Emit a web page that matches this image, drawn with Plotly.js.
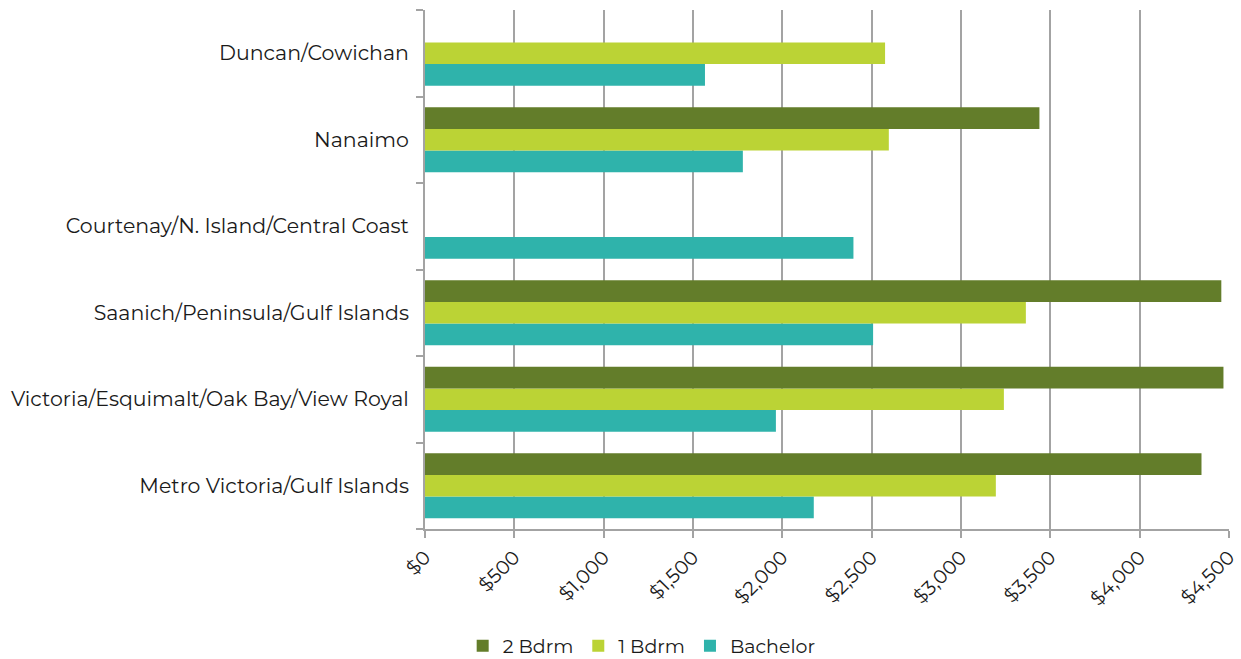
<!DOCTYPE html>
<html>
<head>
<meta charset="utf-8">
<script src="https://cdn.plot.ly/plotly-3.0.1.min.js"></script>
<style>
  html, body { margin: 0; padding: 0; background: #ffffff; }
  #chart { width: 1241px; height: 659px; }
</style>
</head>
<body>
<div id="chart"></div>
<script>
// Regions, listed bottom to top along the category axis
const regions = [
  'Metro Victoria/Gulf Islands',
  'Victoria/Esquimalt/Oak Bay/View Royal',
  'Saanich/Peninsula/Gulf Islands',
  'Courtenay/N. Island/Central Coast',
  'Nanaimo',
  'Duncan/Cowichan'
];

// Monthly rent by unit type (null = no figure reported)
const bachelor = [2176, 1964, 2508, 2398, 1779, 1567];
const oneBdrm  = [3195, 3240, 3363, null, 2596, 2575];
const twoBdrm  = [4346, 4469, 4457, null, 3439, null];

const xTicks = [0, 500, 1000, 1500, 2000, 2500, 3000, 3500, 4000, 4500];
const xTickLabels = xTicks.map(v => '$' + v.toLocaleString('en-US'));

const font = 'Montserrat, "Noto Sans", "Open Sans", sans-serif';
const gridCol = '#a3a3a3';

function series(name, values, color) {
  return {
    type: 'bar',
    orientation: 'h',
    name: name,
    y: regions,
    x: values,
    marker: { color: color, line: { width: 0 } },
    hoverinfo: 'x+y+name'
  };
}

const data = [
  series('Bachelor', bachelor, '#2fb3ab'),
  series('1 Bdrm', oneBdrm, '#bbd335'),
  series('2 Bdrm', twoBdrm, '#637d2a')
];

const layout = {
  width: 1241,
  height: 659,
  margin: { l: 425, r: 12, t: 10, b: 130, autoexpand: false },
  paper_bgcolor: '#ffffff',
  plot_bgcolor: '#ffffff',
  barmode: 'group',
  bargap: 0.25,
  bargroupgap: 0,
  font: { family: font, size: 18, color: '#1a1a1a' },
  showlegend: true,
  legend: {
    orientation: 'h',
    traceorder: 'reversed',
    x: 0.2695,
    xanchor: 'center',
    y: -0.225,
    yanchor: 'middle',
    font: { family: font, size: 19, color: '#1a1a1a' },
    itemwidth: 30
  },
  xaxis: {
    range: [0, 4500],
    tickmode: 'array',
    tickvals: xTicks,
    ticktext: xTickLabels,
    tickangle: -45,
    ticks: 'outside',
    ticklen: 7,
    tickwidth: 2,
    tickcolor: gridCol,
    showgrid: true,
    gridcolor: gridCol,
    gridwidth: 2,
    showline: true,
    linecolor: gridCol,
    linewidth: 2,
    zeroline: false,
    automargin: false,
    tickfont: { family: font, size: 19.5, color: '#1a1a1a' },
    fixedrange: true
  },
  yaxis: {
    type: 'category',
    tickson: 'boundaries',
    ticks: 'outside',
    ticklen: 7,
    tickwidth: 2,
    tickcolor: gridCol,
    showgrid: false,
    showline: true,
    linecolor: gridCol,
    linewidth: 2,
    zeroline: false,
    automargin: false,
    ticklabelstandoff: 10,
    tickfont: { family: font, size: 20.5, color: '#1a1a1a' },
    fixedrange: true
  }
};

Plotly.newPlot('chart', data, layout, { displayModeBar: false, staticPlot: true });
</script>
</body>
</html>
